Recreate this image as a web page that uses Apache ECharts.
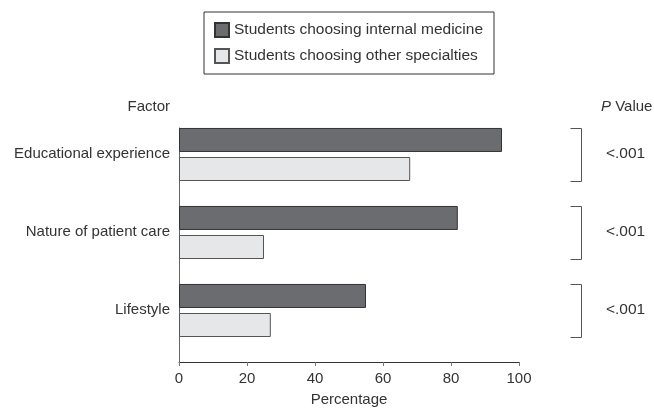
<!DOCTYPE html>
<html><head><meta charset="utf-8">
<script src="https://cdn.jsdelivr.net/npm/echarts@6/dist/echarts.min.js"></script>
<style>html,body{margin:0;padding:0;background:#fff}#c{width:654px;height:408px}</style>
</head><body><div id="c"></div>
<script>
const categories = ['Educational experience', 'Nature of patient care', 'Lifestyle'];
const internalMedicine = [95, 82, 55];
const otherSpecialties = [68, 25, 27];
const pValues = ['<.001', '<.001', '<.001'];
const xTicks = [0, 20, 40, 60, 80, 100];
const seriesNames = ['Students choosing internal medicine', 'Students choosing other specialties'];

const FONT = "'Liberation Sans', Arial, sans-serif";
const TXT = '#333';
const BAR = 24, GAP_PCT = 0.21;

const chart = echarts.init(document.getElementById('c'), null, {renderer: 'canvas'});
chart.setOption({
  animation: false,
  textStyle: {fontFamily: FONT, color: TXT},
  legend: {
    data: seriesNames,
    orient: 'vertical',
    left: 204, top: 12,
    padding: [10, 11, 10, 10],
    itemGap: 10, itemWidth: 14, itemHeight: 14,
    icon: 'rect',
    borderColor: '#333', borderWidth: 1,
    textStyle: {fontSize: 15.5, color: TXT, fontFamily: FONT}
  },
  grid: {left: 179, right: 135, top: 128, bottom: 46, containLabel: false, outerBoundsMode: 'none'},
  xAxis: {
    type: 'value',
    min: xTicks[0], max: xTicks[xTicks.length - 1], interval: xTicks[1] - xTicks[0],
    splitLine: {show: false},
    axisLine: {show: true, lineStyle: {color: '#333', width: 1}},
    axisTick: {show: true, length: 4, lineStyle: {color: '#777'}},
    axisLabel: {fontSize: 15, margin: 9, color: TXT, fontFamily: FONT},
    name: 'Percentage', nameLocation: 'middle', nameGap: 30,
    nameTextStyle: {fontSize: 15, color: TXT, fontFamily: FONT}
  },
  yAxis: [{
    type: 'category', data: categories, inverse: true,
    axisLine: {show: true, lineStyle: {color: '#666', width: 1}},
    axisTick: {show: false},
    axisLabel: {fontSize: 15, margin: 9, color: TXT, fontFamily: FONT, verticalAlign: 'bottom', lineHeight: 26},
    name: 'Factor', nameLocation: 'start', nameGap: 14,
    nameTextStyle: {fontSize: 15, color: TXT, fontFamily: FONT, align: 'right', padding: [0, 9, 0, 0]}
  }, {
    type: 'category', data: categories, inverse: true, position: 'right', offset: 82,
    axisLine: {show: false}, axisTick: {show: false},
    axisLabel: {fontSize: 15.5, margin: 5, color: TXT, fontFamily: FONT, verticalAlign: 'bottom', lineHeight: 26,
      formatter: (v, i) => pValues[i]},
    name: '{i|P} Value', nameLocation: 'start', nameGap: 14,
    nameTextStyle: {fontSize: 15, color: TXT, fontFamily: FONT, align: 'left',
      rich: {i: {fontStyle: 'italic', fontSize: 15, color: TXT, fontFamily: FONT}}}
  }],
  series: [{
    name: seriesNames[0], type: 'bar', data: internalMedicine, barWidth: BAR, barGap: (GAP_PCT * 100) + '%',
    itemStyle: {color: '#6b6c6f', borderColor: '#333', borderWidth: 1}
  }, {
    name: seriesNames[1], type: 'bar', data: otherSpecialties, barWidth: BAR, barGap: (GAP_PCT * 100) + '%',
    itemStyle: {color: '#e6e7e9', borderColor: '#555', borderWidth: 1}
  }, {
    name: '_spacer', type: 'bar', data: [null, null, null], barWidth: 20, silent: true,
    itemStyle: {color: 'rgba(0,0,0,0)'}
  }, {
    name: '_brackets', type: 'custom', silent: true, clip: false,
    data: categories.map((c, i) => [0, i]),
    encode: {x: 0, y: 1},
    renderItem: function (params, api) {
      const cs = params.coordSys;
      const c = api.coord([0, api.value(1)]);
      const band = api.size([0, 1])[1];
      const top = Math.round(c[1] - band / 2) + 0.5;
      const bottom = Math.round(c[1] - band / 2 + BAR * 2 + BAR * GAP_PCT) + 0.5;
      const x = Math.round(cs.x + cs.width + 62) + 0.5;
      return {
        type: 'polyline',
        shape: {points: [[x - 11, top], [x, top], [x, bottom], [x - 11, bottom]]},
        style: {stroke: '#555', fill: null, lineWidth: 1}
      };
    }
  }]
});
</script></body></html>
